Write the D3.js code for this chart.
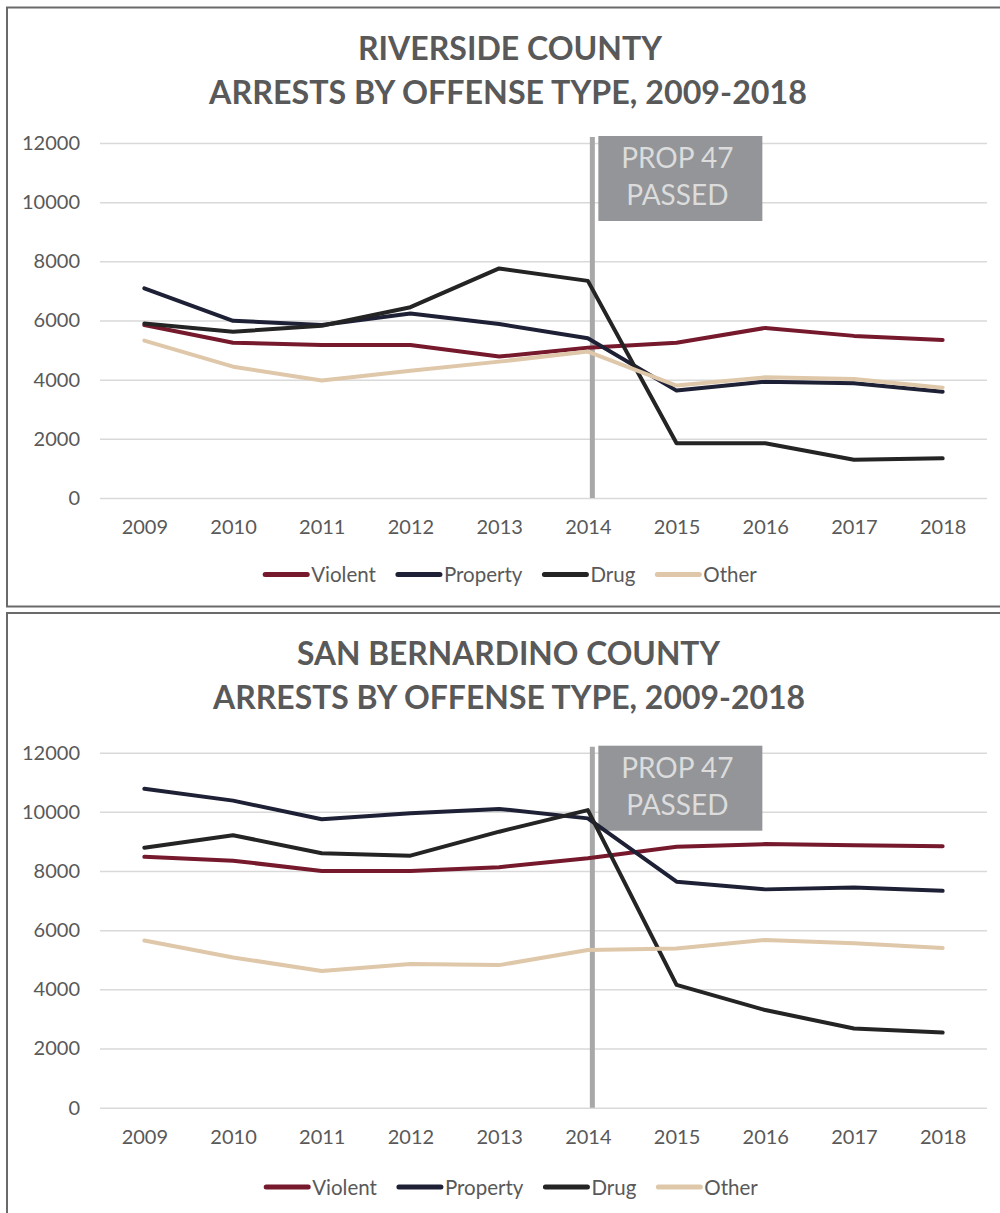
<!DOCTYPE html>
<html>
<head>
<meta charset="utf-8">
<script src="https://cdn.jsdelivr.net/npm/d3@7"></script>
<style>
  body { margin: 0; background: #fff; }
  svg { display: block; font-family: Lato, "Open Sans", sans-serif; }
</style>
</head>
<body>
<svg id="chart"></svg>
<script>
// taille de la page
var WIDTH = 1000;
var HEIGHT = 1213;

// données
const years = ["2009", "2010", "2011", "2012", "2013", "2014", "2015", "2016", "2017", "2018"];
const seriesNames = ["Violent", "Property", "Drug", "Other"];
const yTicks = [0, 2000, 4000, 6000, 8000, 10000, 12000];

const riversideViolent  = [5850, 5250, 5170, 5170, 4780, 5080, 5250, 5750, 5480, 5340];
const riversideProperty = [7090, 5990, 5850, 6240, 5880, 5400, 3630, 3930, 3880, 3590];
const riversideDrug     = [5900, 5620, 5820, 6450, 7760, 7340, 1850, 1850, 1290, 1340];
const riversideOther    = [5320, 4440, 3970, 4300, 4610, 4950, 3800, 4080, 4020, 3730];

const sanBernViolent  = [8480, 8350, 8000, 8000, 8130, 8430, 8820, 8910, 8870, 8840];
const sanBernProperty = [10780, 10380, 9750, 9950, 10100, 9780, 7640, 7380, 7440, 7330];
const sanBernDrug     = [8790, 9210, 8600, 8520, 9330, 10060, 4150, 3300, 2680, 2540];
const sanBernOther    = [5650, 5080, 4620, 4860, 4820, 5330, 5380, 5670, 5560, 5400];

const propYear = "2014";
const propLabel = ["PROP 47", "PASSED"];

// couleurs des séries
var color = d3.scaleOrdinal()
    .domain(seriesNames)
    .range(["#76192c", "#1e2136", "#242424", "#dfc7a9"]);

var textColor = "#595959";

const svg = d3.select("#chart")
    .attr("width", WIDTH)
    .attr("height", HEIGHT);

// fonction qui dessine un panneau complet
function drawPanel(cfg) {
    var g = svg.append("g");

    // cadre
    g.append("rect")
      .attr("x", 7)
      .attr("y", cfg.frameTop)
      .attr("width", 1010)
      .attr("height", cfg.frameHeight)
      .attr("fill", "none")
      .attr("stroke", "#6a6a6a")
      .attr("stroke-width", 2);

    // titres
    g.selectAll(".title")
      .data(cfg.titles)
      .enter()
      .append("text")
      .attr("x", (d, i) => cfg.titleX[i])
      .attr("y", (d, i) => cfg.titleY[i])
      .attr("text-anchor", "middle")
      .attr("textLength", (d, i) => cfg.titleLen[i])
      .attr("lengthAdjust", "spacingAndGlyphs")
      .style("font-size", "33px")
      .style("font-weight", "bold")
      .attr("fill", textColor)
      .text(d => d);

    var x = d3.scalePoint()
        .domain(years)
        .range([100, 987])
        .padding(0.5);

    var y = d3.scaleLinear()
        .domain([0, 12000])
        .range([cfg.plotBottom, cfg.plotTop]);

    // axe vertical + lignes de grille
    var yAxis = g.append("g")
      .attr("transform", "translate(100,0)")
      .call(d3.axisLeft(y).tickValues(yTicks).tickSize(-887).tickPadding(20).tickFormat(d3.format("d")));
    yAxis.select(".domain").remove();
    yAxis.selectAll("line").attr("stroke", "#d9d9d9").attr("stroke-width", 1.5);
    yAxis.selectAll("text")
      .attr("fill", textColor)
      .style("font-size", "20px")
      .style("font-family", "Lato, 'Open Sans', sans-serif");

    // axe horizontal
    var xAxis = g.append("g")
      .attr("transform", "translate(0," + cfg.plotBottom + ")")
      .call(d3.axisBottom(x).tickSize(0).tickPadding(22));
    xAxis.select(".domain").remove();
    xAxis.selectAll("text")
      .attr("fill", textColor)
      .style("font-size", "20px")
      .style("font-family", "Lato, 'Open Sans', sans-serif");

    // ligne verticale de la Prop 47
    var propX = x(propYear) + 4.5;
    g.append("line")
      .attr("x1", propX)
      .attr("x2", propX)
      .attr("y1", cfg.plotTop - 6)
      .attr("y2", cfg.plotBottom)
      .attr("stroke", "#a8a8a8")
      .attr("stroke-width", 5);

    // boite d'annotation
    var box = g.append("g")
      .attr("transform", "translate(" + (propX + 6) + "," + (cfg.plotTop - 7) + ")");
    box.append("rect")
      .attr("width", 164)
      .attr("height", 85)
      .attr("fill", "#939598");
    box.selectAll("text")
      .data(propLabel)
      .enter()
      .append("text")
      .attr("x", 79)
      .attr("y", (d, i) => 32 + i * 37)
      .attr("text-anchor", "middle")
      .attr("fill", "#dcdcdc")
      .style("font-size", "28px")
      .text(d => d);

    // lignes des séries
    var line = d3.line()
        .x((d, i) => x(years[i]))
        .y(d => y(d));

    g.selectAll(".serie")
      .data(cfg.series)
      .enter()
      .append("path")
      .attr("d", d => line(d.values))
      .attr("fill", "none")
      .attr("stroke", d => color(d.name))
      .attr("stroke-width", 4)
      .attr("stroke-linejoin", "round")
      .attr("stroke-linecap", "round");

    // légende
    var legend = g.append("g");
    var items = legend.selectAll("g")
      .data(seriesNames)
      .enter()
      .append("g");
    items.append("line")
      .attr("x1", 0)
      .attr("x2", 42)
      .attr("stroke", d => color(d))
      .attr("stroke-width", 5)
      .attr("stroke-linecap", "round");
    items.append("text")
      .attr("x", 46)
      .attr("y", 7.5)
      .attr("fill", textColor)
      .style("font-size", "20.5px")
      .text(d => d);

    var pos = 0;
    items.each(function() {
        var item = d3.select(this);
        item.attr("transform", "translate(" + pos + ",0)");
        pos += 46 + item.select("text").node().getComputedTextLength() + 22;
    });
    var total = pos - 22;
    legend.attr("transform", "translate(" + (cfg.legendCenter - total / 2) + "," + cfg.legendY + ")");
}

drawPanel({
    frameTop: 7.5,
    frameHeight: 599,
    titles: ["RIVERSIDE COUNTY", "ARRESTS BY OFFENSE TYPE, 2009-2018"],
    titleX: [510, 508],
    titleY: [60, 104],
    titleLen: [304, 598],
    plotTop: 143,
    plotBottom: 498,
    legendY: 574.5,
    legendCenter: 511,
    series: [
        {name: "Violent", values: riversideViolent},
        {name: "Property", values: riversideProperty},
        {name: "Drug", values: riversideDrug},
        {name: "Other", values: riversideOther}
    ]
});

drawPanel({
    frameTop: 613,
    frameHeight: 700,
    titles: ["SAN BERNARDINO COUNTY", "ARRESTS BY OFFENSE TYPE, 2009-2018"],
    titleX: [508.5, 509],
    titleY: [665, 709],
    titleLen: [423, 592],
    plotTop: 752.7,
    plotBottom: 1107.7,
    legendY: 1187,
    legendCenter: 512,
    series: [
        {name: "Violent", values: sanBernViolent},
        {name: "Property", values: sanBernProperty},
        {name: "Drug", values: sanBernDrug},
        {name: "Other", values: sanBernOther}
    ]
});
</script>
</body>
</html>
